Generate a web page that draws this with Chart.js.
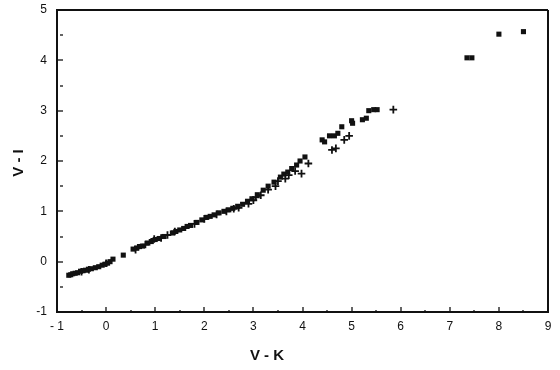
<!DOCTYPE html>
<html>
<head>
<meta charset="utf-8">
<script src="https://cdn.jsdelivr.net/npm/chart.js@4/dist/chart.umd.min.js"></script>
<style>
  html, body { margin: 0; padding: 0; background: #fff; }
  #wrap { width: 560px; height: 370px; position: relative; }
  .axis-title {
    position: absolute;
    font: bold 15px "Liberation Sans", Arial, Helvetica, sans-serif;
    color: #111;
    white-space: nowrap;
    line-height: 18px;
  }
  #xTitle { left: 237px; top: 346px; width: 60px; text-align: center; }
  #yTitle { left: -12px; top: 154px; width: 60px; text-align: center; transform: rotate(-90deg); }
</style>
</head>
<body>
<div id="wrap">
  <canvas id="chart" width="560" height="370"></canvas>
  <div id="xTitle" class="axis-title"></div>
  <div id="yTitle" class="axis-title"></div>
</div>
<script>
// dados: V-K (x) contra V-I (y)
const squarePoints = [
  [-0.76, -0.27], [-0.72, -0.26], [-0.68, -0.24], [-0.63, -0.23], [-0.58, -0.22],
  [-0.52, -0.19], [-0.47, -0.18], [-0.42, -0.17], [-0.36, -0.15], [-0.30, -0.14],
  [-0.22, -0.12], [-0.15, -0.10], [-0.08, -0.07], [-0.02, -0.05], [0.03, -0.03],
  [0.08, 0.00], [0.14, 0.05], [0.35, 0.13], [0.55, 0.25], [0.62, 0.27],
  [0.68, 0.30], [0.74, 0.31], [0.85, 0.37], [0.92, 0.40], [1.00, 0.44],
  [1.08, 0.46], [1.18, 0.50], [1.35, 0.57], [1.42, 0.60], [1.50, 0.63], [1.58, 0.66],
  [1.65, 0.70], [1.72, 0.72], [1.85, 0.78], [1.95, 0.83], [2.05, 0.88],
  [2.12, 0.90], [2.20, 0.93], [2.30, 0.97], [2.40, 1.00], [2.50, 1.03],
  [2.58, 1.06], [2.68, 1.10], [2.78, 1.14], [2.88, 1.20], [2.97, 1.25],
  [3.08, 1.33], [3.20, 1.42], [3.30, 1.50], [3.42, 1.58], [3.55, 1.68],
  [3.62, 1.74], [3.70, 1.78], [3.78, 1.85], [3.88, 1.92], [3.95, 2.00],
  [4.05, 2.08], [4.40, 2.42], [4.45, 2.38], [4.55, 2.50], [4.65, 2.50],
  [4.72, 2.55], [4.80, 2.68], [5.00, 2.80], [5.02, 2.75], [5.22, 2.82],
  [5.30, 2.85], [5.35, 3.00], [5.45, 3.02], [5.52, 3.02],
  [7.35, 4.05], [7.45, 4.05], [8.00, 4.52], [8.50, 4.57]
];

const crossPoints = [
  [-0.50, -0.20], [-0.35, -0.16], [0.00, -0.03], [0.60, 0.24], [0.80, 0.34],
  [0.98, 0.45], [1.12, 0.47], [1.25, 0.53], [1.40, 0.60], [1.80, 0.75],
  [2.00, 0.85], [2.25, 0.94], [2.45, 1.00], [2.60, 1.05], [2.70, 1.07],
  [2.90, 1.15], [3.00, 1.22], [3.05, 1.28], [3.15, 1.32], [3.30, 1.43],
  [3.45, 1.50], [3.50, 1.60], [3.65, 1.65], [3.72, 1.72], [3.85, 1.80],
  [3.98, 1.75], [4.12, 1.95], [4.60, 2.22], [4.68, 2.25], [4.85, 2.42],
  [4.95, 2.50], [5.85, 3.02]
];

// marcas: inteiros com rótulo, meios só com marca curta
const xTicks = [-1, -0.5, 0, 0.5, 1, 1.5, 2, 2.5, 3, 3.5, 4, 4.5, 5, 5.5, 6, 6.5, 7, 7.5, 8, 8.5, 9];
const yTicks = [-1, -0.5, 0, 0.5, 1, 1.5, 2, 2.5, 3, 3.5, 4, 4.5, 5];
const xTitle = 'V - K';
const yTitle = 'V - I';

document.getElementById('xTitle').textContent = xTitle;
document.getElementById('yTitle').textContent = yTitle;

const INK = '#111';
const TICK_LEN = 6;

const isMinor = c => c.tick && !Number.isInteger(c.tick.value);

// as linhas de grelha do primeiro e do último valor formam a moldura;
// traço muito comprido em vez de linha contínua
const makeGrid = (first, last) => {
  const edge = c => c.tick && (c.tick.value === first || c.tick.value === last);
  return {
    display: true,
    drawOnChartArea: true,
    color: c => (edge(c) ? INK : 'rgba(0,0,0,0)'),
    lineWidth: c => (edge(c) ? 2 : 0),
    drawTicks: true,
    tickLength: -TICK_LEN,          // negativo = marcas para dentro
    tickColor: INK,
    tickWidth: 1.3,
    tickBorderDash: c => (isMinor(c) ? [3, 50] : [TICK_LEN, 50])
  };
};

const borderOpts = { display: true, color: INK, width: 2, dash: [2000, 1] };

// tamanho fixo do eixo e sem folga extra para os rótulos das pontas
const fixBox = (w, h) => s => {
  if (w !== null) s.width = w;
  if (h !== null) s.height = h;
  s.paddingTop = 0;
  s.paddingBottom = 0;
  s.paddingLeft = 0;
  s.paddingRight = 0;
};

const toXY = arr => arr.map(([vx, vy]) => ({ x: vx, y: vy }));

new Chart(document.getElementById('chart'), {
  type: 'scatter',
  data: {
    datasets: [
      {
        data: toXY(squarePoints),
        pointStyle: 'rect',
        pointRadius: 3.6,
        backgroundColor: INK,
        borderWidth: 0
      },
      {
        data: toXY(crossPoints),
        pointStyle: 'cross',
        pointRadius: 3.8,
        borderColor: INK,
        borderWidth: 1.8
      }
    ]
  },
  options: {
    responsive: false,
    animation: false,
    layout: { padding: { top: 10, right: 12 } },
    plugins: {
      legend: { display: false },
      tooltip: { enabled: false }
    },
    scales: {
      x: {
        type: 'linear',
        min: -1,
        max: 9,
        afterBuildTicks: s => { s.ticks = xTicks.map(v => ({ value: v })); },
        afterFit: fixBox(null, 58),
        grid: makeGrid(-1, 9),
        border: borderOpts,
        ticks: {
          padding: 7 + TICK_LEN,
          color: INK,
          font: { size: 12 },
          autoSkip: false,
          maxRotation: 0,
          callback: v => (!Number.isInteger(v) ? '' : v === -1 ? '- 1' : String(v))
        }
      },
      y: {
        type: 'linear',
        min: -1,
        max: 5,
        afterBuildTicks: s => { s.ticks = yTicks.map(v => ({ value: v })); },
        afterFit: fixBox(57, null),
        grid: makeGrid(-1, 5),
        border: borderOpts,
        ticks: {
          padding: 10 + TICK_LEN,
          color: INK,
          font: { size: 12 },
          autoSkip: false,
          callback: v => (Number.isInteger(v) ? String(v) : '')
        }
      }
    }
  }
});
</script>
</body>
</html>
